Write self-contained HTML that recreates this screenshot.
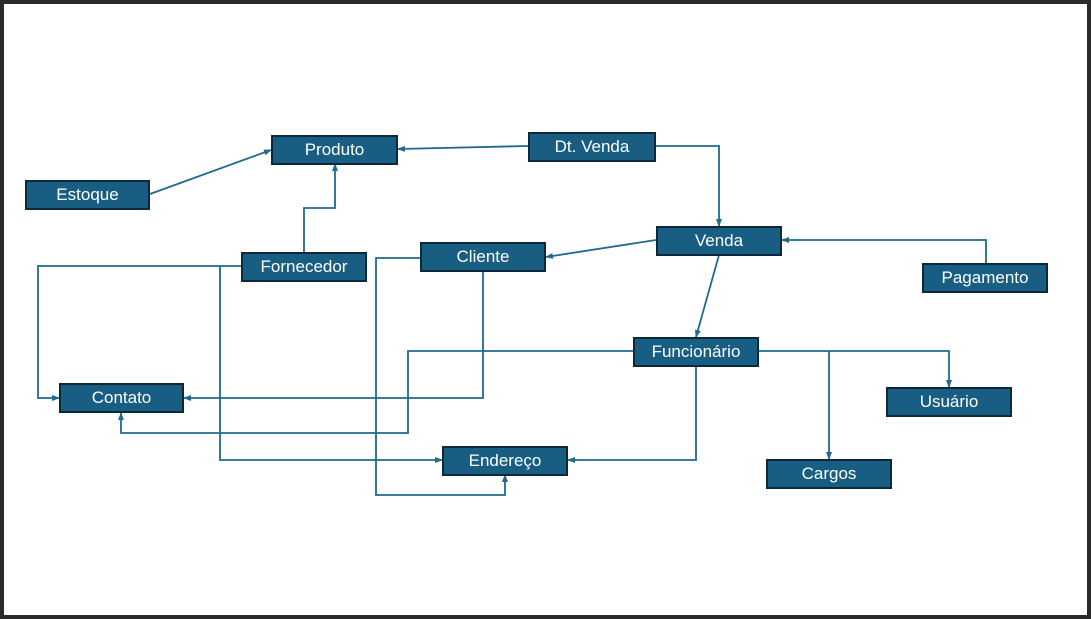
<!DOCTYPE html>
<html><head><meta charset="utf-8"><style>
html,body{margin:0;padding:0}
body{width:1091px;height:619px;background:#fff;position:relative;overflow:hidden;font-family:"Liberation Sans",sans-serif}
.frame{position:absolute;left:0;top:0;width:1083px;height:611px;border:4px solid #2b2b2b}
.b{position:absolute;background:#175e82;border:2px solid #0d2838;box-sizing:border-box;color:#fff;font-size:17px;display:flex;align-items:center;justify-content:center}
svg{position:absolute;left:0;top:0}
</style></head><body>
<div class="frame"></div>
<svg width="1091" height="619">
<defs><marker id="a" markerWidth="8" markerHeight="8" refX="7" refY="4" orient="auto" markerUnits="userSpaceOnUse"><path d="M0,1 L8,4 L0,7 Z" fill="#1f6a8e"/></marker></defs>
<g fill="none" stroke="#1f6a8e" stroke-width="1.8" marker-end="url(#a)">
<path d="M150,194 L271,150"/>
<path d="M528,146 L398,149"/>
<path d="M656,146 L719,146 L719,226"/>
<path d="M304,252 L304,208 L335,208 L335,164"/>
<path d="M656,240 L546,257"/>
<path d="M986,263 L986,240 L782,240"/>
<path d="M719,255 L696,337"/>
<path d="M241,266 L38,266 L38,398 L59,398"/>
<path d="M220,266 L220,460 L442,460"/>
<path d="M420,258 L376,258 L376,495 L505,495 L505,475"/>
<path d="M483,272 L483,398 L184,398"/>
<path d="M633,351 L408,351 L408,433 L121,433 L121,413"/>
<path d="M696,366 L696,460 L568,460"/>
<path d="M759,351 L949,351 L949,387"/>
<path d="M829,351 L829,459"/>
</g>
</svg>
<div class="b" style="left:271px;top:135px;width:127px;height:30px">Produto</div>
<div class="b" style="left:528px;top:132px;width:128px;height:30px">Dt. Venda</div>
<div class="b" style="left:25px;top:180px;width:125px;height:30px">Estoque</div>
<div class="b" style="left:656px;top:226px;width:126px;height:30px">Venda</div>
<div class="b" style="left:420px;top:242px;width:126px;height:30px">Cliente</div>
<div class="b" style="left:241px;top:252px;width:126px;height:30px">Fornecedor</div>
<div class="b" style="left:922px;top:263px;width:126px;height:30px">Pagamento</div>
<div class="b" style="left:633px;top:337px;width:126px;height:30px">Funcionário</div>
<div class="b" style="left:59px;top:383px;width:125px;height:30px">Contato</div>
<div class="b" style="left:886px;top:387px;width:126px;height:30px">Usuário</div>
<div class="b" style="left:442px;top:446px;width:126px;height:30px">Endereço</div>
<div class="b" style="left:766px;top:459px;width:126px;height:30px">Cargos</div>
</body></html>
